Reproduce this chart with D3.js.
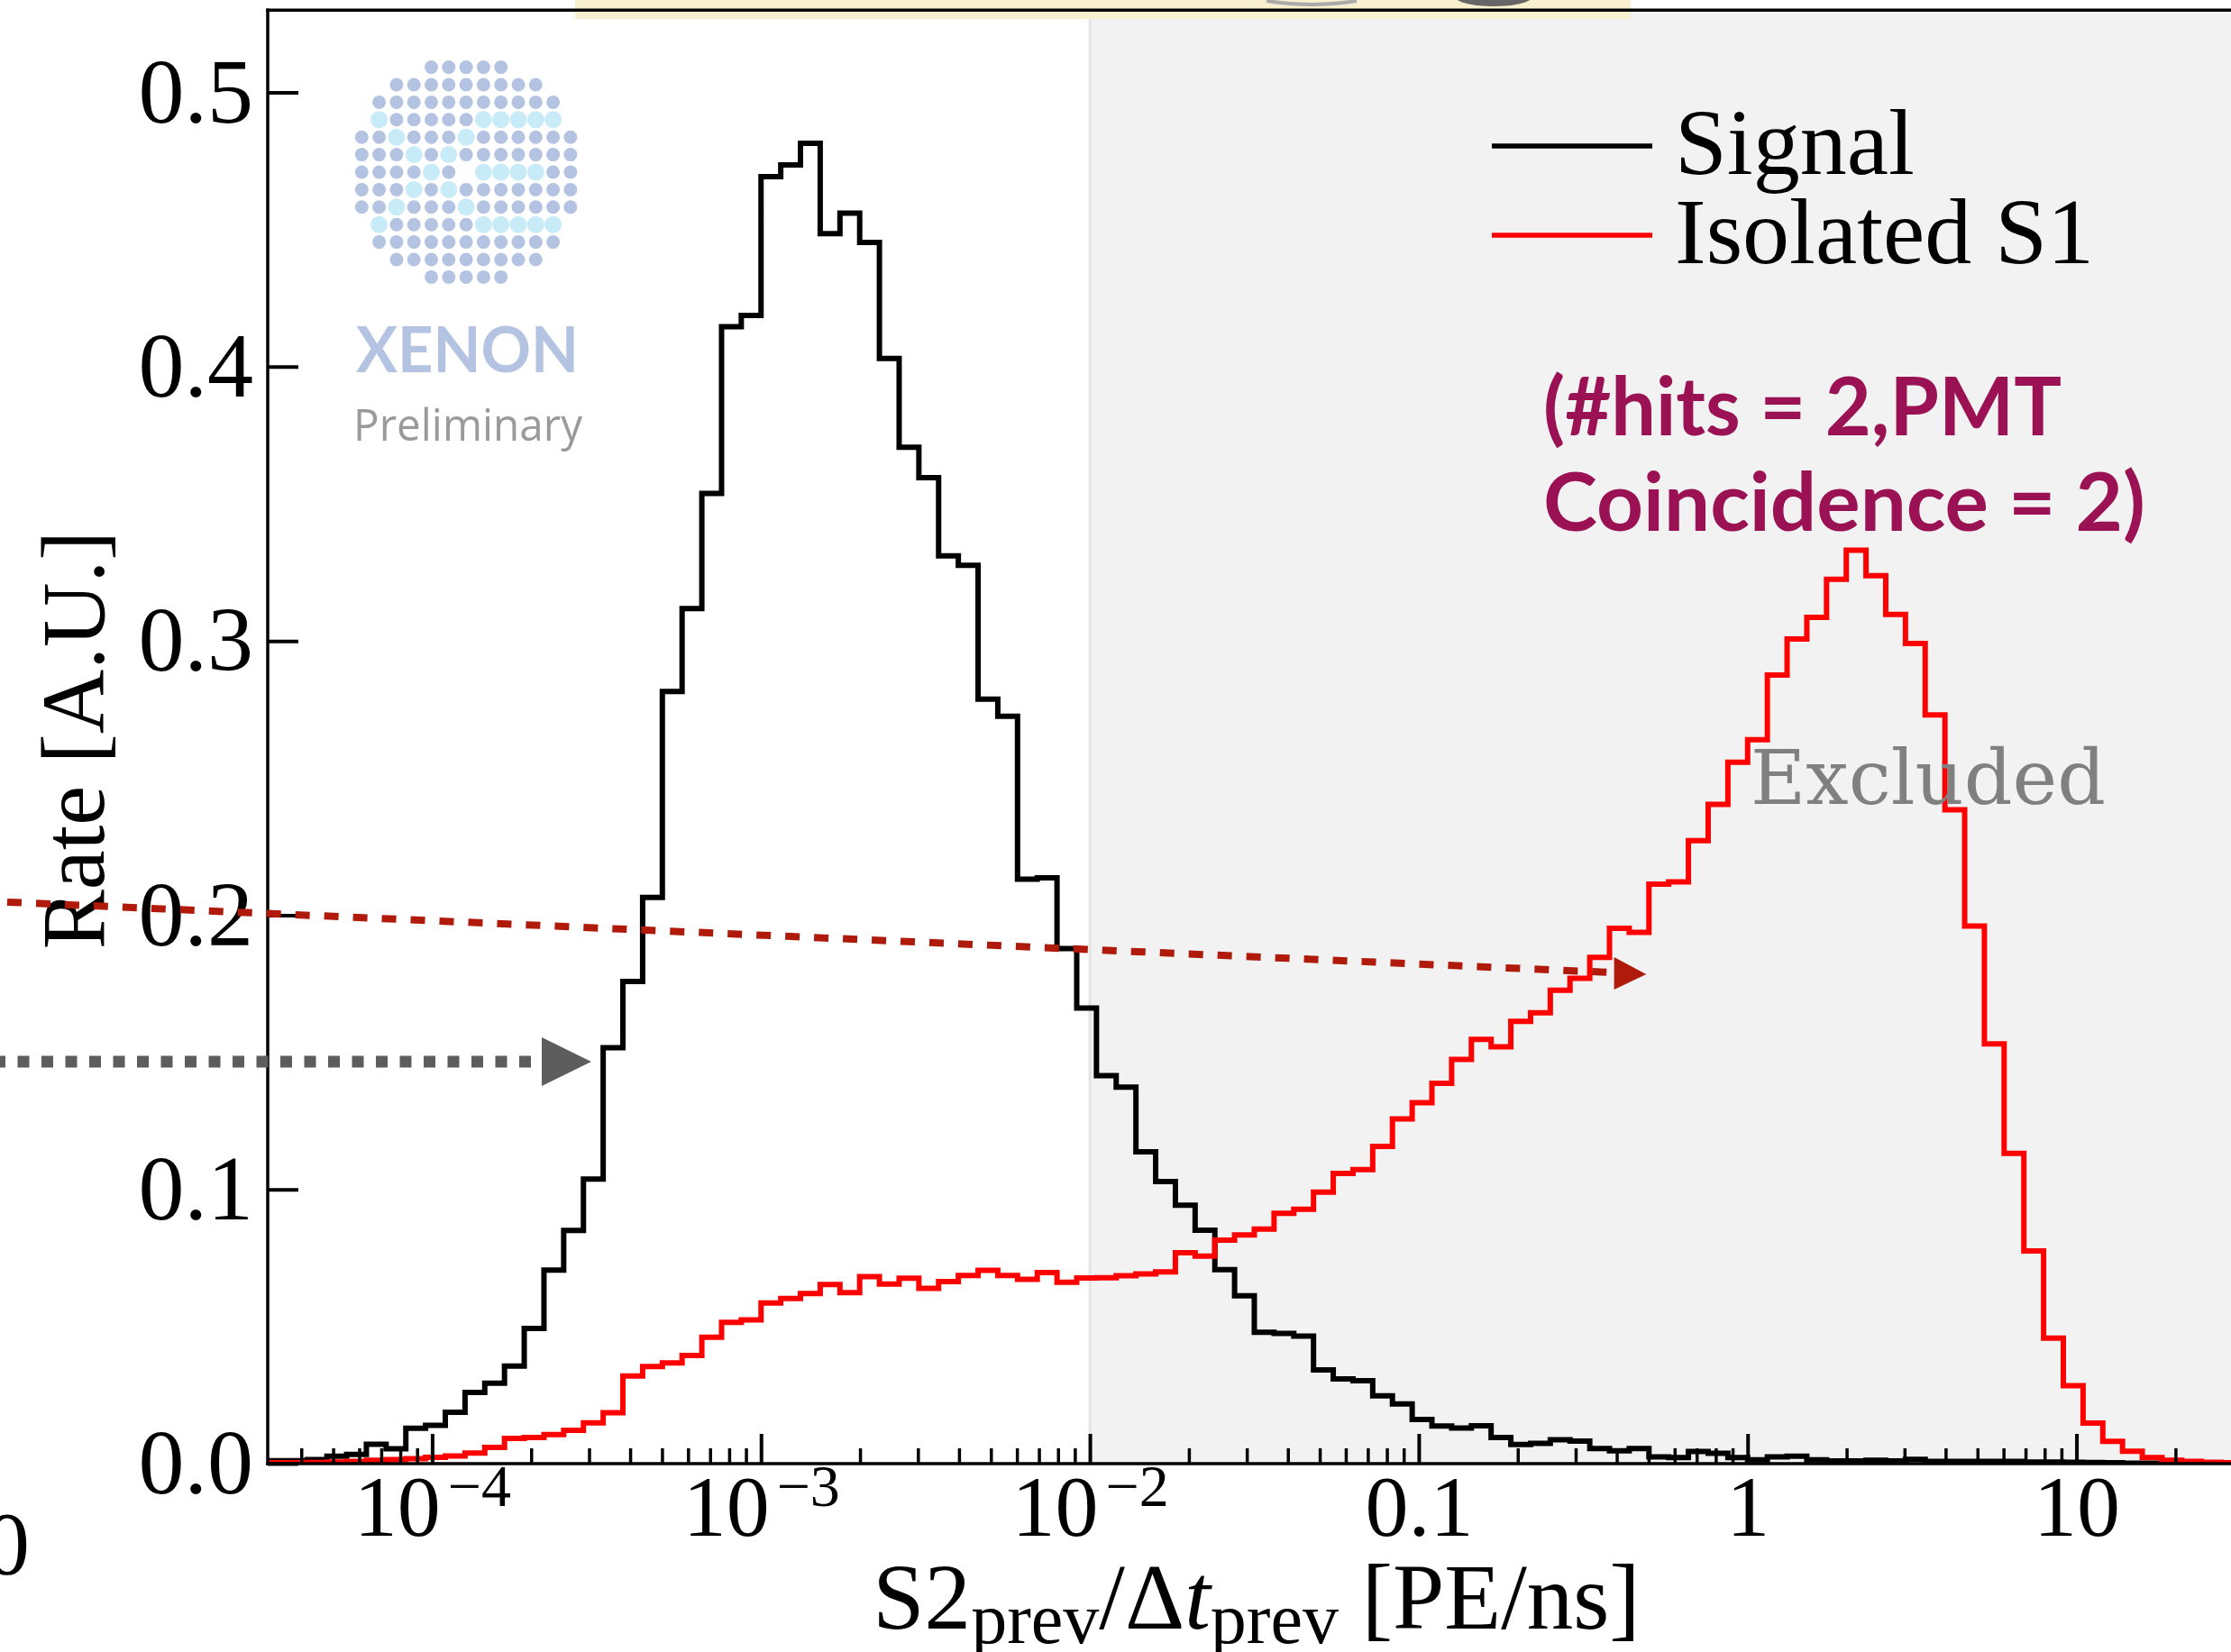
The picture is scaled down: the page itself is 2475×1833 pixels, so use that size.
<!DOCTYPE html>
<html>
<head>
<meta charset="utf-8">
<script src="https://cdnjs.cloudflare.com/ajax/libs/d3/7.8.5/d3.min.js"></script>
<style>
  html, body { margin: 0; padding: 0; background: #fff; }
  svg { display: block; }
</style>
</head>
<body>
<div id="chart-area"></div>
<script>
// 100 log-spaced bins between 10^-4.5 and 10^1.5
var binLogMin = -4.5, binLogMax = 1.5, nBins = 100;

var signal = [
    0.0011, 0.0011, 0.0015, 0.0027, 0.0034, 0.0071, 0.0054, 0.0129, 0.0140, 0.0187,
    0.0260, 0.0293, 0.0356, 0.0493, 0.0706, 0.0850, 0.1038, 0.1517, 0.1758, 0.2065,
    0.2816, 0.3118, 0.3538, 0.4146, 0.4187, 0.4693, 0.4736, 0.4815, 0.4485, 0.4560,
    0.4453, 0.4030, 0.3706, 0.3595, 0.3310, 0.3276, 0.2788, 0.2725, 0.2131, 0.2136,
    0.1878, 0.1661, 0.1415, 0.1373, 0.1137, 0.1029, 0.0942, 0.0851, 0.0707, 0.0612,
    0.0479, 0.0475, 0.0465, 0.0342, 0.0309, 0.0302, 0.0247, 0.0218, 0.0161, 0.0137,
    0.0130, 0.0138, 0.0095, 0.0070, 0.0074, 0.0087, 0.0082, 0.0055, 0.0047, 0.0055,
    0.0025, 0.0022, 0.0044, 0.0038, 0.0022, 0.0014, 0.0025, 0.0027, 0.0014, 0.0010,
    0.0010, 0.0012, 0.0010, 0.0016, 0.0008, 0.0008, 0.0008, 0.0008, 0.0008, 0.0006,
    0.0006, 0.0005, 0.0004, 0.0003, 0.0002, 0.0002, 0.0002, 0.0002, 0.0002, 0.0002
];

var isolatedS1 = [
    0.0003, 0.0003, 0.0004, 0.0006, 0.0008, 0.0012, 0.0015, 0.0018, 0.0023, 0.0028,
    0.0039, 0.0059, 0.0092, 0.0095, 0.0106, 0.0122, 0.0149, 0.0186, 0.0320, 0.0354,
    0.0367, 0.0394, 0.0461, 0.0515, 0.0524, 0.0586, 0.0602, 0.0620, 0.0653, 0.0624,
    0.0682, 0.0655, 0.0676, 0.0639, 0.0664, 0.0686, 0.0705, 0.0686, 0.0672, 0.0697,
    0.0661, 0.0677, 0.0678, 0.0685, 0.0692, 0.0699, 0.0769, 0.0757, 0.0815, 0.0834,
    0.0855, 0.0913, 0.0928, 0.0990, 0.1058, 0.1072, 0.1157, 0.1257, 0.1316, 0.1387,
    0.1474, 0.1547, 0.1520, 0.1613, 0.1644, 0.1726, 0.1770, 0.1846, 0.1952, 0.1937,
    0.2113, 0.2121, 0.2272, 0.2404, 0.2558, 0.2640, 0.2876, 0.3007, 0.3086, 0.3225,
    0.3331, 0.3238, 0.3097, 0.2991, 0.2730, 0.2384, 0.1960, 0.1531, 0.1131, 0.0776,
    0.0458, 0.0284, 0.0148, 0.0081, 0.0045, 0.0022, 0.0012, 0.0008, 0.0005, 0.0003
];

var yTicks = [0, 0.1, 0.2, 0.3, 0.4, 0.5];
var xMajorTicks = [1e-4, 1e-3, 1e-2, 0.1, 1, 10];
var xTickBase = ["10", "10", "10", "0.1", "1", "10"];
var xTickExp = ["\u22124", "\u22123", "\u22122", "", "", ""];
var legendLabels = ["Signal", "Isolated S1"];
var legendColors = ["#000000", "#ff0000"];
var excludedFrom = 1e-2;

// XENON logo dot pattern: o = normal dot, * = light dot
var logoRows = [
    "....ooooo....",
    "..ooooooooo..",
    ".ooooooooooo.",
    ".*ooooo*****.",
    "oo*ooo*oooooo",
    "ooo*o*ooooooo",
    "oooo*o.****oo",
    "ooo*o*ooooooo",
    "oo*ooo*oooooo",
    ".*ooooo*****.",
    ".ooooooooooo.",
    "..ooooooooo..",
    "....ooooo...."
];

var serif = "'Liberation Serif', 'Times New Roman', serif";

var svg = d3.select("#chart-area").append("svg")
    .attr("width", 2475)
    .attr("height", 1833);

svg.append("rect").attr("width", 2475).attr("height", 1833).attr("fill", "#fff");

var x = d3.scaleLog()
    .domain([Math.pow(10, binLogMin), Math.pow(10, binLogMax)])
    .range([297, 2486]);
var y = d3.scaleLinear()
    .domain([0, 0.53])
    .range([1624, 11.3]);

var x0 = x.range()[0], x1 = x.range()[1];
var yTop = y(0.53), yBot = y(0);

var edges = d3.range(nBins + 1).map((i) => Math.pow(10, binLogMin + i * (binLogMax - binLogMin) / nBins));

svg.append("clipPath").attr("id", "plot-clip")
    .append("rect")
    .attr("x", x0).attr("y", yTop)
    .attr("width", x1 - x0).attr("height", yBot - yTop);

// excluded region
svg.append("rect")
    .attr("x", x(excludedFrom)).attr("y", yTop)
    .attr("width", x1 - x(excludedFrom)).attr("height", yBot - yTop)
    .attr("fill", "#f2f2f2");
svg.append("line")
    .attr("x1", x(excludedFrom)).attr("x2", x(excludedFrom))
    .attr("y1", yTop).attr("y2", yBot)
    .attr("stroke", "#e4e4e4").attr("stroke-width", 3);

// pasted banner remnant at the top
svg.append("rect")
    .attr("x", 638).attr("y", 0).attr("width", 1171).attr("height", 21)
    .attr("fill", "#f8efcf");
svg.append("ellipse")
    .attr("cx", 1657).attr("cy", -3).attr("rx", 42).attr("ry", 10)
    .attr("fill", "#666");
svg.append("path")
    .attr("d", "M1405,1 Q1455,9 1505,1")
    .attr("fill", "none").attr("stroke", "#aaa").attr("stroke-width", 4);

// logo
var logo = svg.append("g");
logoRows.forEach((row, r) => {
    row.split("").forEach((c, k) => {
        if (c === ".") return;
        logo.append("circle")
            .attr("cx", 401.3 + 19.3 * k)
            .attr("cy", 74.6 + 19.4 * r)
            .attr("r", c === "*" ? 9.5 : 7.5)
            .attr("fill", c === "*" ? "#c8ebf8" : "#b4c3e1");
    });
});
logo.append("text")
    .attr("x", 395).attr("y", 413)
    .attr("textLength", 247).attr("lengthAdjust", "spacingAndGlyphs")
    .style("font-family", "Lato, 'Open Sans', sans-serif")
    .style("font-weight", "bold")
    .style("font-size", "71px")
    .attr("fill", "#b4c3e1")
    .text("XENON");
logo.append("text")
    .attr("x", 392).attr("y", 489)
    .attr("textLength", 254).attr("lengthAdjust", "spacingAndGlyphs")
    .style("font-family", "'Open Sans', 'Noto Sans', sans-serif")
    .style("font-size", "50px")
    .attr("fill", "#9a9a9a")
    .text("Preliminary");

// histograms
function stepPoints(vals) {
    var pts = [[edges[0], 0]];
    vals.forEach((v, i) => pts.push([edges[i], v]));
    pts.push([edges[nBins], vals[nBins - 1]]);
    pts.push([edges[nBins], 0]);
    return pts;
}
var stepLine = d3.line()
    .x((d) => x(d[0]))
    .y((d) => y(d[1]))
    .curve(d3.curveStepAfter);

var hists = svg.append("g").attr("clip-path", "url(#plot-clip)");
[signal, isolatedS1].forEach((vals, i) => {
    hists.append("path")
        .attr("d", stepLine(stepPoints(vals)))
        .attr("fill", "none")
        .attr("stroke", legendColors[i])
        .attr("stroke-width", 6)
        .attr("stroke-linejoin", "miter");
});

// axes
var xMinor = x.ticks().filter((v) => Math.abs(Math.log10(v) - Math.round(Math.log10(v))) > 1e-6);

var gxMinor = svg.append("g")
    .attr("transform", "translate(0," + yBot + ")")
    .call(d3.axisBottom(x).tickValues(xMinor).tickSize(-17).tickFormat(""));
gxMinor.select(".domain").remove();
gxMinor.selectAll(".tick line").attr("stroke", "#000").attr("stroke-width", 3.5);

var gx = svg.append("g")
    .attr("transform", "translate(0," + yBot + ")")
    .call(d3.axisBottom(x).tickValues(xMajorTicks).tickSize(-33).tickFormat(""));
gx.select(".domain").remove();
gx.attr("font-family", serif).attr("font-size", 96);
gx.selectAll(".tick line").attr("stroke", "#000").attr("stroke-width", 4);
gx.selectAll(".tick text").each(function (d, i) {
    var t = d3.select(this).attr("y", 80).attr("dy", null).attr("fill", "#000").text(null);
    t.append("tspan").text(xTickBase[i]);
    if (xTickExp[i]) {
        t.append("tspan").attr("dx", 8).attr("dy", -33)
            .style("font-size", "66px").text(xTickExp[i]);
    }
});

var gy = svg.append("g")
    .attr("transform", "translate(" + x0 + ",0)")
    .call(d3.axisLeft(y).tickValues(yTicks).tickSize(-34).tickPadding(16).tickFormat(d3.format(".1f")));
gy.select(".domain").remove();
gy.attr("font-family", serif).attr("font-size", 102);
gy.selectAll(".tick line").attr("stroke", "#000").attr("stroke-width", 4);
gy.selectAll(".tick text").attr("fill", "#000");

// spines
svg.append("line").attr("x1", x0).attr("x2", x0).attr("y1", yTop).attr("y2", yBot)
    .attr("stroke", "#000").attr("stroke-width", 3.5).attr("stroke-linecap", "square");
svg.append("line").attr("x1", x0).attr("x2", x1).attr("y1", yBot).attr("y2", yBot)
    .attr("stroke", "#000").attr("stroke-width", 3.5).attr("stroke-linecap", "square");
svg.append("line").attr("x1", x0).attr("x2", x1).attr("y1", yTop).attr("y2", yTop)
    .attr("stroke", "#000").attr("stroke-width", 3.5).attr("stroke-linecap", "square");

// axis labels
svg.append("text")
    .attr("transform", "translate(115,821) rotate(-90)")
    .attr("text-anchor", "middle")
    .style("font-family", serif).style("font-size", "99px")
    .text("Rate [A.U.]");

var xl = svg.append("text")
    .attr("x", 1394).attr("y", 1807)
    .attr("text-anchor", "middle")
    .style("font-family", serif).style("font-size", "103px");
xl.append("tspan").text("S2");
xl.append("tspan").attr("dy", 16).style("font-size", "80px").text("prev");
xl.append("tspan").attr("dy", -16).text("/\u0394");
xl.append("tspan").style("font-style", "italic").text("t");
xl.append("tspan").attr("dy", 16).style("font-size", "80px").text("prev");
xl.append("tspan").attr("dy", -16).text(" [PE/ns]");

// "Excluded" label
svg.append("text")
    .attr("x", 1942).attr("y", 892)
    .style("font-family", "'DejaVu Serif', serif").style("font-size", "84px")
    .attr("fill", "#808080")
    .text("Excluded");

// legend
legendLabels.forEach((lab, i) => {
    var ly = 162 + i * 99;
    svg.append("line")
        .attr("x1", 1655).attr("x2", 1833).attr("y1", ly).attr("y2", ly)
        .attr("stroke", legendColors[i]).attr("stroke-width", 5.5);
    svg.append("text")
        .attr("x", 1858).attr("y", ly + 31)
        .style("font-family", serif).style("font-size", "104px")
        .text(lab);
});

// annotation
var noteLines = ["(#hits = 2,PMT", "Coincidence = 2)"];
var noteWidths = [575, 668];
noteLines.forEach((s, i) => {
    svg.append("text")
        .attr("x", 1712).attr("y", 483 + i * 106)
        .attr("textLength", noteWidths[i]).attr("lengthAdjust", "spacingAndGlyphs")
        .style("font-family", "Lato, 'Noto Sans', sans-serif")
        .style("font-weight", "bold")
        .style("font-size", "90px")
        .attr("fill", "#9a1254")
        .text(s);
});

// overlaid arrows
svg.append("line")
    .attr("x1", -24).attr("y1", 999.5).attr("x2", 1789).attr("y2", 1079.1)
    .attr("stroke", "#b01a0a").attr("stroke-width", 8)
    .attr("stroke-dasharray", "16 16");
svg.append("path")
    .attr("d", "M1790.6,1062.1 L1826.3,1080.9 L1790.6,1097.9 Z")
    .attr("fill", "#b01a0a");

svg.append("line")
    .attr("x1", -7).attr("y1", 1178).attr("x2", 591).attr("y2", 1178)
    .attr("stroke", "#5d5d5d").attr("stroke-width", 13)
    .attr("stroke-dasharray", "13 13.5");
svg.append("path")
    .attr("d", "M601,1151 L656,1178 L601,1205 Z")
    .attr("fill", "#5d5d5d");

// cut-off tick label at the lower left edge
svg.append("text")
    .attr("x", 33).attr("y", 1746)
    .attr("text-anchor", "end")
    .style("font-family", serif).style("font-size", "100px")
    .text("0");
</script>
</body>
</html>
